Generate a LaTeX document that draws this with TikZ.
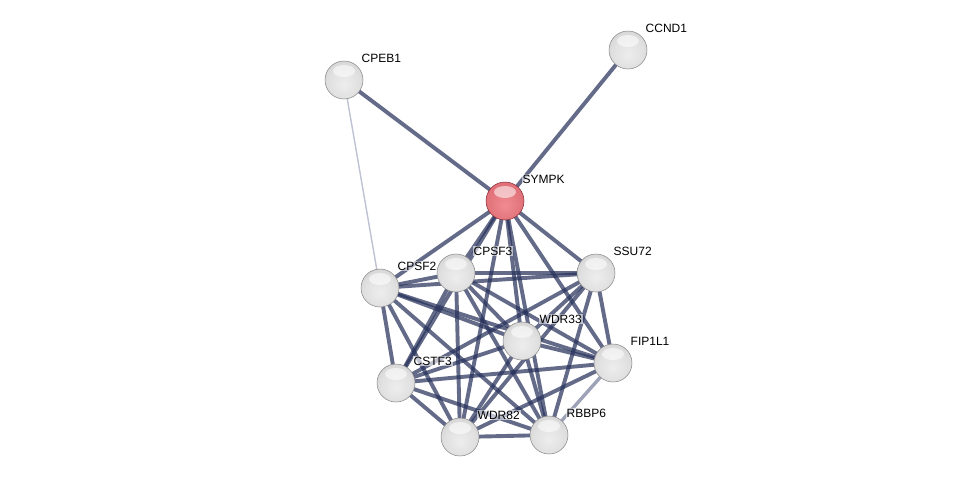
\documentclass[tikz,border=0pt]{standalone}
\usepackage{fontspec}
\setmainfont{Liberation Sans}
\pgfdeclareradialshading{strgray}{\pgfpoint{0bp}{-6bp}}{color(0bp)=(black!7); color(20bp)=(black!12); color(34bp)=(black!18); color(42bp)=(black!26); color(48bp)=(black!38); color(54bp)=(black!50); color(70bp)=(black!55)}
\definecolor{redA}{RGB}{240,140,146}
\definecolor{redB}{RGB}{222,108,116}
\definecolor{redC}{RGB}{200,80,90}
\definecolor{redD}{RGB}{150,45,55}
\pgfdeclareradialshading{strred}{\pgfpoint{0bp}{-6bp}}{color(0bp)=(redA); color(20bp)=(redB!70!redA); color(34bp)=(redB); color(42bp)=(redC); color(48bp)=(redC!70!redD); color(54bp)=(redD); color(70bp)=(redD)}
\begin{document}
\begin{tikzpicture}[x=1pt,y=-1pt,
  shine/.style={path picture={\fill[white,fill opacity=0.55] ([yshift=9pt]path picture bounding box.center) ellipse[x radius=11pt,y radius=6pt];}},
  prot/.style={circle,minimum size=38pt,inner sep=0pt,shading=strgray,draw=black!48,line width=0.5pt,shine},
  seed/.style={prot,shading=strred,draw={rgb,255:red,130;green,40;blue,48}},
  lbl/.style={anchor=west,font=\fontsize{12}{14}\selectfont,inner sep=1pt,fill=white,fill opacity=0.6,text opacity=1},
  edge/.style={draw={rgb,255:red,40;green,50;blue,92},draw opacity=0.72,line width=3.9pt},
  weak/.style={draw={rgb,255:red,60;green,70;blue,110},draw opacity=0.5,line width=3.4pt},
  faint/.style={draw={rgb,255:red,190;green,194;blue,210},line width=1.4pt}]
\useasboundingbox[fill=white] (0,0) rectangle (976,482);
% coordinates for nodes
\coordinate (pCCND1) at (628,50);
\coordinate (pCPEB1) at (344,80);
\coordinate (pSYMPK) at (505,201);
\coordinate (pCPSF2) at (380,288);
\coordinate (pCPSF3) at (456,273);
\coordinate (pSSU72) at (596,273);
\coordinate (pWDR33) at (522,341);
\coordinate (pFIP1L1) at (613,363);
\coordinate (pCSTF3) at (396,383);
\coordinate (pWDR82) at (460,437);
\coordinate (pRBBP6) at (549,435);
% edges
\draw[faint] (pCPEB1) -- (pCPSF2);
\draw[edge] (pCPEB1) -- (pSYMPK);
\draw[edge] (pCCND1) -- (pSYMPK);
\foreach \a/\b in {SYMPK/CPSF2,SYMPK/CPSF3,SYMPK/SSU72,SYMPK/WDR33,SYMPK/FIP1L1,SYMPK/CSTF3,SYMPK/WDR82,SYMPK/RBBP6,
  CPSF2/CPSF3,CPSF2/SSU72,CPSF2/WDR33,CPSF2/FIP1L1,CPSF2/CSTF3,CPSF2/WDR82,CPSF2/RBBP6,
  CPSF3/SSU72,CPSF3/WDR33,CPSF3/FIP1L1,CPSF3/CSTF3,CPSF3/WDR82,CPSF3/RBBP6,
  SSU72/WDR33,SSU72/FIP1L1,SSU72/CSTF3,SSU72/WDR82,SSU72/RBBP6,
  WDR33/FIP1L1,WDR33/CSTF3,WDR33/WDR82,WDR33/RBBP6,
  FIP1L1/CSTF3,FIP1L1/WDR82,
  CSTF3/WDR82,CSTF3/RBBP6,WDR82/RBBP6}
  \draw[edge] (p\a) -- (p\b);
\draw[weak] (pFIP1L1) -- (pRBBP6);
% nodes
\foreach \n in {CCND1,CPEB1,CPSF2,CPSF3,SSU72,WDR33,FIP1L1,CSTF3,WDR82,RBBP6}
  \node[prot] (\n) at (p\n) {};
\node[seed] (SYMPK) at (pSYMPK) {};
% labels
\foreach \n in {CCND1,CPEB1,SYMPK,CPSF2,CPSF3,SSU72,WDR33,FIP1L1,CSTF3,WDR82,RBBP6}
  \node[lbl] (l\n) at ([xshift=16.5pt,yshift=22pt]p\n) {\n};
\end{tikzpicture}
\end{document}
